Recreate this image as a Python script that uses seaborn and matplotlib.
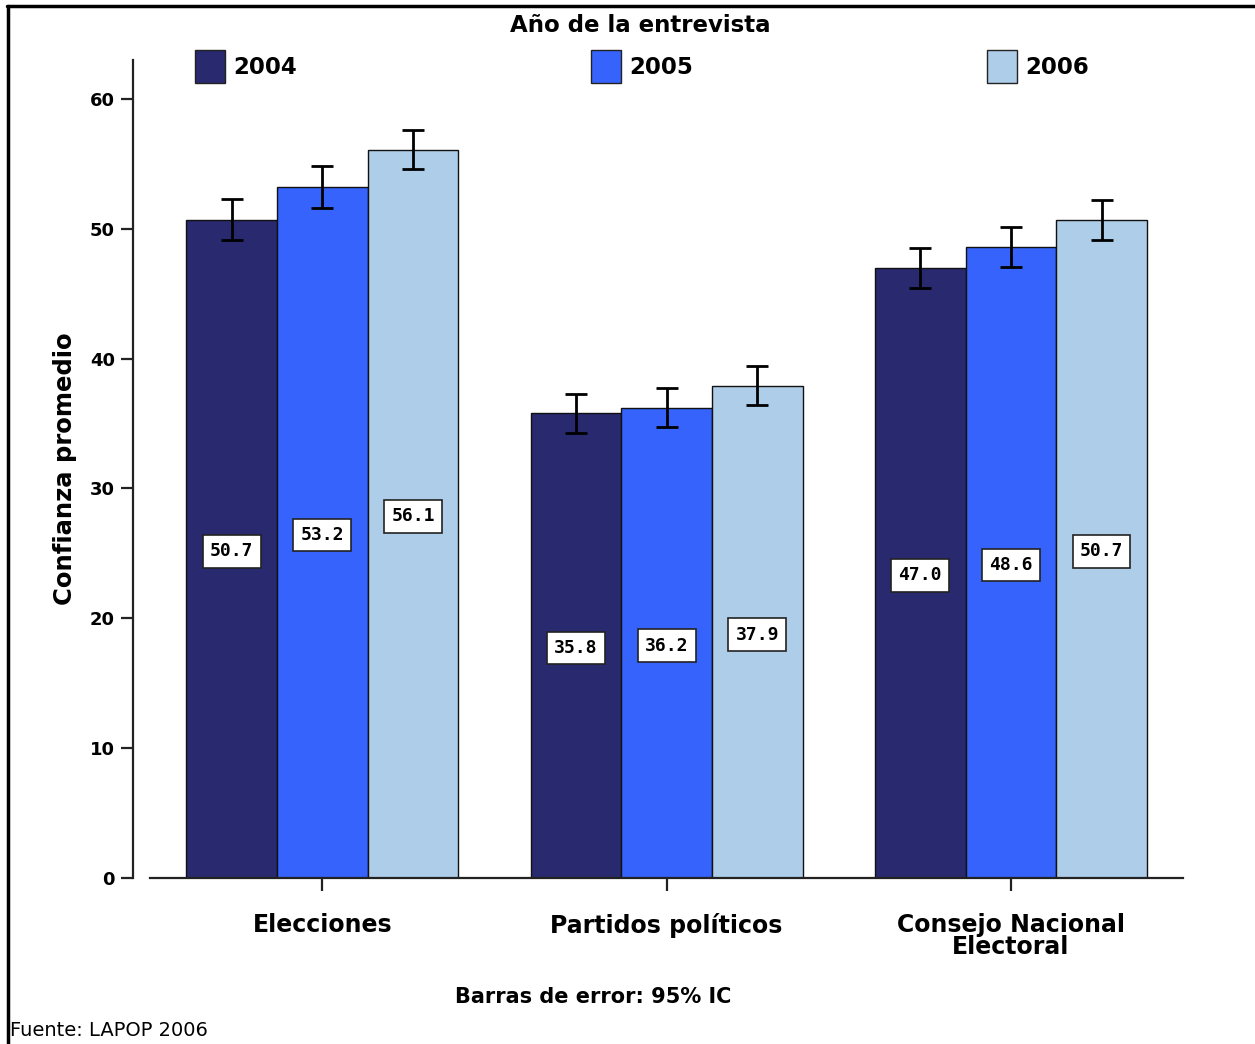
import matplotlib
matplotlib.use("Agg")
import matplotlib.pyplot as plt
from matplotlib.patches import Patch
from matplotlib.lines import Line2D
import seaborn as sns
import pandas as pd

# Datos: confianza promedio por institución y año de la entrevista
categories = ["Elecciones", "Partidos políticos", "Consejo Nacional\nElectoral"]
years = ["2004", "2005", "2006"]
means_2004 = [50.7, 35.8, 47.0]
means_2005 = [53.2, 36.2, 48.6]
means_2006 = [56.1, 37.9, 50.7]
ci_2004 = [1.6, 1.5, 1.55]
ci_2005 = [1.6, 1.5, 1.55]
ci_2006 = [1.5, 1.5, 1.55]
colors = ["#29296f", "#3563fb", "#aecde9"]

rows = []
for year, means, cis in zip(years, [means_2004, means_2005, means_2006], [ci_2004, ci_2005, ci_2006]):
    for cat, m, c in zip(categories, means, cis):
        rows.append({"categoria": cat, "anio": year, "media": m, "ic": c})
df = pd.DataFrame(rows)

sns.set_style("ticks")
plt.rcParams["text.color"] = "black"
plt.rcParams["axes.labelcolor"] = "black"
plt.rcParams["xtick.color"] = "black"
plt.rcParams["ytick.color"] = "black"
WIDE = ["DejaVu Sans"]
MONO = ["DejaVu Sans Mono", "DejaVu Sans"]

fig = plt.figure(figsize=(12.55, 10.44), dpi=100)
ax = fig.add_axes([133 / 1255, 1 - 878 / 1044, (1183 - 133) / 1255, (878 - 60) / 1044])

palette = dict(zip(years, colors))
sns.barplot(data=df, x="categoria", y="media", hue="anio", order=categories,
            hue_order=years, palette=palette, width=0.79, errorbar=None,
            edgecolor="#111111", linewidth=1.0, saturation=1, ax=ax, legend=False)

# barras de error y etiquetas de valor
for i, year in enumerate(years):
    cont = ax.containers[i]
    sub = df[df["anio"] == year].set_index("categoria").loc[categories]
    xs = [p.get_x() + p.get_width() / 2 for p in cont.patches]
    ax.errorbar(xs, sub["media"], yerr=sub["ic"], fmt="none", ecolor="black",
                elinewidth=2, capsize=8, capthick=2, zorder=5)
    for x, v in zip(xs, sub["media"]):
        ax.text(x, v / 2 - 0.2, f"{v:.1f}", ha="center", va="center", fontsize=13,
                fontweight="bold", family=MONO, zorder=6,
                bbox=dict(boxstyle="square,pad=0.4", fc="white", ec="#222222", lw=1.2))

ax.set_xlim(-0.55, 2.5)
ax.set_ylim(0, 63)
ax.set_yticks([0, 10, 20, 30, 40, 50, 60])
ax.set_xlabel("")
ax.set_ylabel("Confianza promedio", fontsize=17.5, fontweight="bold", family=WIDE, labelpad=9)

sns.despine(ax=ax)
ax.spines["bottom"].set_bounds(-0.5, 2.5)
for s in ["left", "bottom"]:
    ax.spines[s].set_linewidth(1.6)
    ax.spines[s].set_color("#222222")
ax.tick_params(axis="y", length=9, width=1.6, color="#222222", pad=4)
ax.tick_params(axis="x", length=9, width=1.6, color="#222222", pad=16)
for lab in ax.get_yticklabels():
    lab.set_fontsize(13)
    lab.set_fontweight("bold")
    lab.set_family(WIDE)
for lab in ax.get_xticklabels():
    lab.set_fontsize(17)
    lab.set_fontweight("bold")
    lab.set_family(WIDE)
    lab.set_linespacing(0.9)
    lab.set_va("top")

# leyenda
handles = [Patch(facecolor=c, edgecolor="#222222", linewidth=1) for c in colors]
leg = fig.legend(handles, years, loc="lower left", ncol=3, mode="expand",
                 bbox_to_anchor=(186 / 1255, 1 - 92 / 1044, 912 / 1255, 0.02),
                 frameon=False, handlelength=1.3, handleheight=1.8, handletextpad=0.35,
                 borderaxespad=0, prop={"family": WIDE, "weight": "bold", "size": 16.5})
fig.text(640 / 1255, 1 - 25 / 1044, "Año de la entrevista", ha="center", va="center",
         fontsize=16.5, fontweight="bold", family=WIDE)

fig.text(593 / 1255, 1 - 997 / 1044, "Barras de error: 95% IC", ha="center", va="center",
         fontsize=15, fontweight="bold", family=WIDE)
fig.text(10 / 1255, 1 - 1030 / 1044, "Fuente: LAPOP 2006", ha="left", va="center",
         fontsize=14, family=WIDE)

# marco
fig.add_artist(Line2D([7 / 1255, 1], [1 - 6 / 1044, 1 - 6 / 1044], color="black", lw=2.5,
                      transform=fig.transFigure))
fig.add_artist(Line2D([8 / 1255, 8 / 1255], [0, 1 - 6 / 1044], color="black", lw=2.5,
                      transform=fig.transFigure))

fig.savefig("out.png", dpi=100, facecolor="white")
